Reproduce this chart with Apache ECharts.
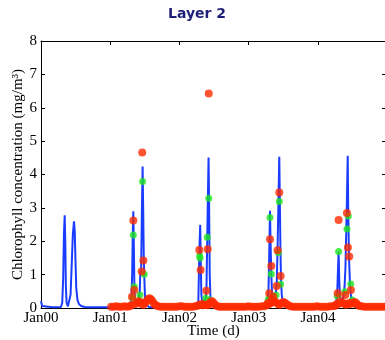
<!DOCTYPE html>
<html>
	<head>
		<meta charset="utf-8">
		<title>Layer 2</title>
		<style>
			html, body {
				width: 100%;
				height: 100%;
				margin: 0;
				padding: 0;
				background: #fff;
			}
			#main {
				width: 385px;
				height: 340px;
			}
		</style>
	</head>
	<body>
		<div id="main"></div>
		<script src="https://cdn.jsdelivr.net/npm/echarts@6/dist/echarts.min.js"></script>
		<script>
			// x values are days since Jan 2000
			var yearTicks = ['Jan00', 'Jan01', 'Jan02', 'Jan03', 'Jan04'];
			var yTicks = [0, 1, 2, 3, 4, 5, 6, 7, 8];

			var blueLine = [
				[0, 0.2], [6, 0.06], [15, 0.03], [60, 0.02], [105, 0.03], [112, 0.15], [117, 0.9], [121, 2.2], [125, 2.78],
				[128, 2.0], [131, 0.7], [135, 0.15], [142, 0.05], [150, 0.1], [156, 0.4], [162, 1.3], [168, 2.2], [174, 2.6],
				[178, 2.3], [182, 1.4], [186, 0.6], [192, 0.25], [200, 0.12], [212, 0.06], [230, 0.03], [260, 0.02], [470, 0.02],
				[476, 0.15], [481, 1.0], [484, 2.2], [487, 2.9], [490, 1.8], [493, 0.5], [498, 0.15], [508, 0.15], [516, 0.25],
				[521, 0.5], [524, 1.1], [528, 1.0], [532, 2.8], [536, 4.24], [539, 3.0], [542, 1.6], [545, 0.9], [549, 0.3],
				[556, 0.1], [570, 0.03], [600, 0.02],
				[825, 0.02], [830, 0.2], [834, 1.3], [837, 2.0], [840, 2.49], [843, 1.3], [846, 0.4], [852, 0.12], [862, 0.1],
				[869, 0.3], [873, 0.6], [877, 2.1], [881, 3.5], [884, 4.51], [887, 3.0], [890, 1.0], [894, 0.3], [900, 0.1], [915, 0.03],
				[1185, 0.02], [1194, 0.2], [1200, 0.5], [1204, 1.6], [1208, 2.91], [1211, 2.0], [1215, 1.0], [1219, 0.4], [1226, 0.3],
				[1234, 0.35], [1240, 0.5], [1244, 0.8], [1248, 1.8], [1253, 3.3], [1257, 4.53], [1260, 3.2], [1263, 1.8], [1266, 0.9],
				[1270, 0.4], [1277, 0.12], [1290, 0.03],
				[1550, 0.02], [1558, 0.2], [1563, 0.5], [1567, 1.2], [1570, 1.69], [1573, 0.9], [1577, 0.35], [1585, 0.2], [1595, 0.3],
				[1601, 0.6], [1606, 1.2], [1610, 2.2], [1614, 3.3], [1618, 4.56], [1621, 2.8], [1625, 1.5], [1630, 0.7], [1635, 0.4],
				[1640, 0.2], [1648, 0.06], [1665, 0.02], [1820, 0.02]
			];

			var greenDots = [
				[482, 0.3], [487, 2.19], [492, 0.64], [522, 0.39], [536, 3.79], [545, 1.01],
				[837, 1.56], [839, 1.5], [869, 0.29], [877, 2.12], [885, 3.29], [891, 0.24],
				[1199, 0.26], [1208, 2.71], [1215, 1.02], [1240, 0.39], [1252, 1.66], [1257, 3.19], [1264, 0.71],
				[1563, 0.36], [1570, 1.69], [1603, 0.49], [1614, 2.37], [1621, 2.76], [1634, 0.72], [1642, 0.24]
			];

			var redPeaks = [
				[480, 0.34], [487, 2.62], [492, 0.54], [531, 1.09], [534, 4.66], [540, 1.42],
				[835, 1.74], [842, 1.14], [872, 0.52], [879, 1.76], [885, 6.43],
				[1204, 0.44], [1208, 2.06], [1215, 1.26], [1216, 0.24], [1225, 0.34], [1243, 0.66], [1248, 1.73], [1257, 3.46], [1264, 0.96],
				[1565, 0.44], [1570, 2.64], [1586, 0.15], [1605, 0.39], [1614, 2.85], [1619, 1.81], [1626, 1.54], [1635, 0.54]
			];

			var redBase = [
				[370, 0.04], [384, 0.04], [398, 0.05], [412, 0.04], [426, 0.04], [440, 0.05], [454, 0.04], [468, 0.05], [476, 0.08],
				[498, 0.12], [506, 0.15], [514, 0.2], [522, 0.18], [530, 0.12], [540, 0.1], [548, 0.14], [556, 0.2], [564, 0.26],
				[572, 0.29], [580, 0.26], [588, 0.2], [596, 0.13], [606, 0.08], [618, 0.05], [632, 0.04], [646, 0.04], [660, 0.04],
				[674, 0.04], [688, 0.04], [702, 0.04], [716, 0.04], [730, 0.05], [744, 0.05], [758, 0.04], [772, 0.04], [786, 0.04],
				[800, 0.04], [814, 0.05], [826, 0.07], [836, 0.1], [848, 0.12], [856, 0.08], [864, 0.1], [872, 0.1], [880, 0.08],
				[888, 0.12], [894, 0.18], [902, 0.2], [910, 0.16], [918, 0.1], [928, 0.06], [940, 0.04], [954, 0.04], [968, 0.04],
				[982, 0.04], [996, 0.04], [1010, 0.04], [1024, 0.04], [1038, 0.04], [1052, 0.04], [1066, 0.04], [1080, 0.04],
				[1094, 0.05], [1108, 0.04], [1122, 0.04], [1136, 0.04], [1150, 0.04], [1164, 0.05], [1178, 0.05], [1190, 0.08],
				[1196, 0.14], [1204, 0.12], [1212, 0.15], [1220, 0.18], [1230, 0.2], [1236, 0.18], [1244, 0.15], [1252, 0.12],
				[1260, 0.1], [1270, 0.14], [1278, 0.18], [1286, 0.16], [1294, 0.12], [1304, 0.08], [1316, 0.05], [1330, 0.04],
				[1344, 0.04], [1358, 0.04], [1372, 0.04], [1386, 0.04], [1400, 0.04], [1414, 0.04], [1428, 0.04], [1442, 0.04],
				[1456, 0.05], [1470, 0.04], [1484, 0.04], [1498, 0.04], [1512, 0.04], [1526, 0.05], [1540, 0.05], [1552, 0.07],
				[1560, 0.12], [1568, 0.12], [1578, 0.2], [1594, 0.15], [1602, 0.12], [1610, 0.1], [1618, 0.12], [1626, 0.15],
				[1634, 0.12], [1640, 0.15], [1646, 0.15], [1654, 0.18], [1662, 0.15], [1670, 0.1], [1680, 0.06], [1692, 0.05],
				[1706, 0.04], [1720, 0.04], [1734, 0.04], [1748, 0.04], [1762, 0.04], [1776, 0.04], [1790, 0.04], [1804, 0.04], [1818, 0.04]
			];

			var serif = 'Liberation Serif';
			var yearLen = 365.25;

			function yearLabel(v) {
				var i = Math.round(v / yearLen);
				if (Math.abs(v - i * yearLen) > 1 || i >= yearTicks.length) return '';
				return yearTicks[i];
			}

			var xBase = {
				type: 'value',
				min: 0,
				max: 1820,
				interval: yearLen,
				splitLine: { show: false },
				axisLine: { show: true, onZero: false, lineStyle: { color: '#000', width: 1 } },
				axisTick: { show: true, inside: true, length: 4, lineStyle: { color: '#000' } }
			};
			var yBase = {
				type: 'value',
				min: yTicks[0],
				max: yTicks[yTicks.length - 1],
				interval: 1,
				splitLine: { show: false },
				axisLine: { show: true, onZero: false, lineStyle: { color: '#000', width: 1 } },
				axisTick: { show: true, inside: true, length: 4, lineStyle: { color: '#000' } }
			};

			var chart = echarts.init(document.getElementById('main'), null, { renderer: 'canvas' });
			chart.setOption({
				animation: false,
				backgroundColor: '#fff',
				graphic: [{
					type: 'text',
					x: 197,
					y: 14,
					style: {
						text: 'Layer 2',
						fill: '#1f1f78',
						font: 'bold 14px "DejaVu Sans"',
						textAlign: 'center',
						textVerticalAlign: 'middle'
					}
				}],
				grid: { left: 41, top: 41, right: -1, bottom: 32, containLabel: false, outerBoundsMode: 'none' },
				xAxis: [
					Object.assign({}, xBase, {
						position: 'bottom',
						name: 'Time (d)',
						nameLocation: 'middle',
						nameGap: 16,
						nameMoveOverlap: false,
						nameTextStyle: { fontFamily: serif, fontSize: 15, color: '#000' },
						axisLabel: { fontFamily: serif, fontSize: 15, color: '#000', margin: 3, formatter: yearLabel }
					}),
					Object.assign({}, xBase, { position: 'top', axisLabel: { show: false } })
				],
				yAxis: [
					Object.assign({}, yBase, {
						position: 'left',
						name: 'Chlorophyll concentration (mg/m³)',
						nameLocation: 'middle',
						nameGap: 15,
						nameMoveOverlap: false,
						nameTextStyle: { fontFamily: serif, fontSize: 15, color: '#000' },
						axisLabel: { fontFamily: serif, fontSize: 15, color: '#000', margin: 4 }
					}),
					Object.assign({}, yBase, { position: 'right', axisLabel: { show: false } })
				],
				series: [
					{
						type: 'line',
						data: blueLine,
						showSymbol: false,
						symbol: 'none',
						lineStyle: { color: '#1a3cff', width: 2 },
						z: 2
					},
					{
						type: 'scatter',
						data: greenDots,
						symbolSize: 7,
						itemStyle: { color: '#1ee61e' },
						z: 3
					},
					{
						type: 'scatter',
						data: redBase.concat(redPeaks),
						symbolSize: 8,
						itemStyle: { color: '#ff2a00' },
						z: 4
					}
				]
			});
		</script>
	</body>
</html>
